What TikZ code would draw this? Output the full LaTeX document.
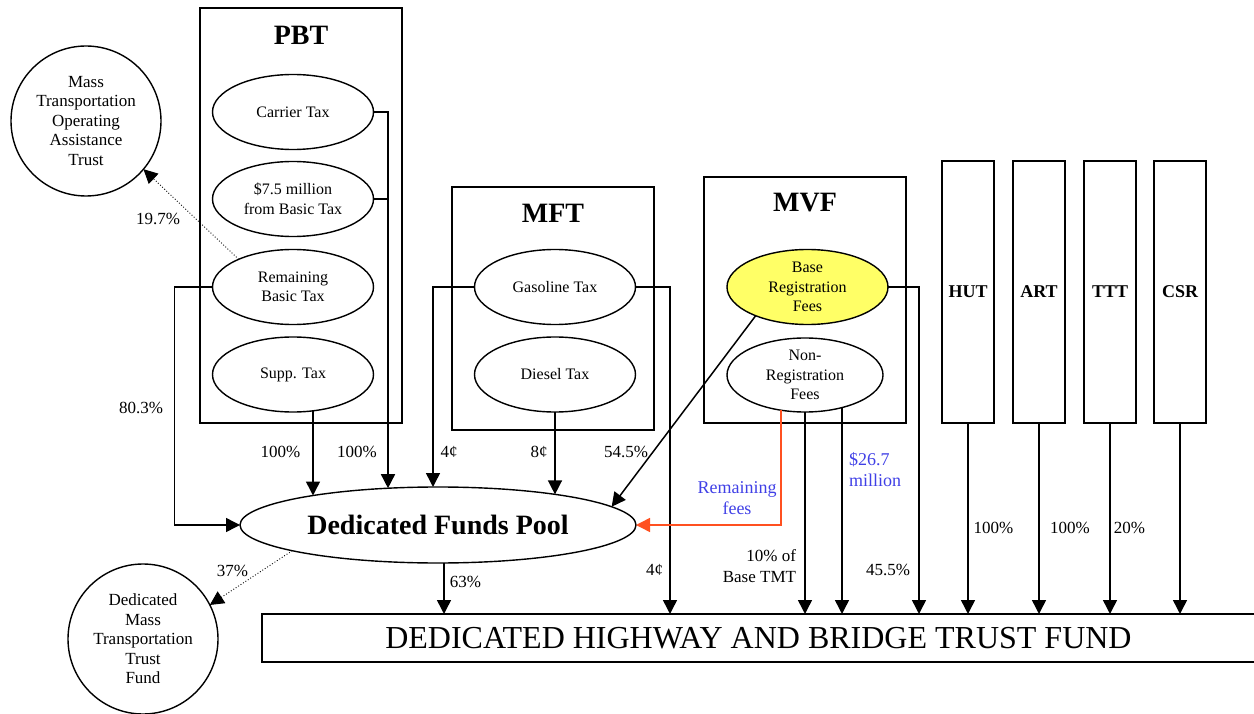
\documentclass[tikz,border=0pt]{standalone}
\usepackage{fontspec}
\setmainfont{Liberation Serif}
\usetikzlibrary{arrows.meta,shapes.geometric,calc}
\definecolor{fred}{RGB}{255,80,32}
\definecolor{fblue}{RGB}{64,64,230}
\definecolor{fyel}{RGB}{255,255,102}
\begin{document}
\begin{tikzpicture}[x=1pt,y=-1pt,
  every node/.style={inner sep=0pt,outer sep=0pt},
  ln/.style={line width=1.5pt},
  arr/.style={ln,-{Triangle[width=14pt,length=14pt]}},
  redarr/.style={line width=1.5pt,fred,-{Triangle[width=14pt,length=14pt]}},
  dotarr/.style={line width=0.9pt,dotted,-{Triangle[width=14pt,length=14pt]}},
  boxr/.style={draw,line width=1.4pt,rectangle},
  ell/.style={draw,line width=1.4pt,ellipse,minimum width=161pt,minimum height=75pt},
  etext/.style={align=center,font=\fontsize{16}{19.5}\selectfont},
  ctext/.style={align=center,font=\fontsize{17}{19.5}\selectfont},
  circ/.style={draw,line width=1.4pt,circle,minimum size=150pt},
  title/.style={font=\fontsize{28}{30}\selectfont\bfseries},
  stitle/.style={font=\fontsize{18}{20}\selectfont\bfseries},
  lab/.style={font=\fontsize{17}{21}\selectfont},
  blab/.style={font=\fontsize{18}{21}\selectfont,text=fblue}]
\useasboundingbox (0,0) rectangle (1254,714);

% --- boxes
\node[boxr,minimum width=202pt,minimum height=415pt] (pbt) at (301,215.5) {};
\node[title] (pbtt) at (301,35) {PBT};
\node[boxr,minimum width=202pt,minimum height=243pt] (mft) at (553,308.5) {};
\node[title] (mftt) at (553,213) {MFT};
\node[boxr,minimum width=202pt,minimum height=246pt] (mvf) at (805,300) {};
\node[title] (mvft) at (805,203) {MVF};
\node[boxr,minimum width=52pt,minimum height=262pt,stitle] (hut) at (968,292) {HUT};
\node[boxr,minimum width=52pt,minimum height=262pt,stitle] (art) at (1039,292) {ART};
\node[boxr,minimum width=52pt,minimum height=262pt,stitle] (ttt) at (1110,292) {TTT};
\node[boxr,minimum width=52pt,minimum height=262pt,stitle] (csr) at (1180,292) {CSR};

% --- ellipses
\node[ell] (carrier) at (293,112) {};
\node[etext] at (carrier) {Carrier Tax};
\node[ell] (b75) at (293,199) {};
\node[etext] at (b75) {\$7.5 million\\from Basic Tax};
\node[ell] (rbt) at (293,287) {};
\node[etext] at (rbt) {Remaining\\Basic Tax};
\node[ell] (supp) at (293,374.5) {};
\node[etext] at (supp) {Supp. Tax};
\node[ell] (gas) at (555,287) {};
\node[etext] at (gas) {Gasoline Tax};
\node[ell] (diesel) at (555,374.5) {};
\node[etext] at (diesel) {Diesel Tax};
\node[ell,fill=fyel] (brf) at (807.5,287) {};
\node[etext] at (brf) {Base\\Registration\\Fees};
\node[ell,minimum width=156pt,minimum height=74pt] (nrf) at (805,375) {};
\node[etext] at (nrf) {Non-\\Registration\\Fees};

\node[draw,line width=1.4pt,ellipse,minimum width=396pt,minimum height=76pt] (dfp) at (438,525) {};
\node[font=\fontsize{28}{30}\selectfont\bfseries] at (dfp) {Dedicated Funds Pool};

\node[circ] (mt) at (86,121) {};
\node[ctext] at (mt) {Mass\\Transportation\\Operating\\Assistance\\Trust};
\node[circ] (dmt) at (143,639) {};
\node[ctext] at (dmt) {Dedicated\\Mass\\Transportation\\Trust\\Fund};

\node[draw,line width=1.4pt,rectangle,minimum width=993pt,minimum height=48pt,
  font=\fontsize{32}{36}\selectfont] (fund) at (758.5,638) {DEDICATED HIGHWAY AND BRIDGE TRUST FUND};

% --- points on the ellipse borders
\coordinate (pA) at ($(dfp.center)+(-125,-29.5)$);
\coordinate (pB) at ($(dfp.center)+(-50,-36.8)$);
\coordinate (pC) at ($(dfp.center)+(-5,-38)$);
\coordinate (pD) at ($(dfp.center)+(117,-30.6)$);
\coordinate (pE) at ($(dfp.center)+(6,37.5)$);
\coordinate (sS) at ($(supp.center)+(20,36.3)$);
\coordinate (nR) at ($(nrf.center)+(-24,35.2)$);
\coordinate (nK) at ($(nrf.center)+(37,32.6)$);

% --- PBT connectors
\draw[arr] (carrier.east) -| (pB);
\draw[ln] (b75.east) -- (b75.east -| pB);
\draw[arr] (sS) -- (sS |- pA);
\draw[arr] (rbt.west) -- ++(-38,0) |- (dfp.west);
\draw[dotarr] (rbt.153) -- (mt.-40);

% --- MFT connectors
\draw[arr] (gas.west) -| (pC);
\draw[arr] (diesel.south) -- (diesel.south |- pD);
\draw[arr] (gas.east) -- ++(34.5,0) coordinate (g1) -- (g1 |- fund.north);

% --- MVF connectors
\draw[arr] (brf.east) -- ++(31,0) coordinate (b1) -- (b1 |- fund.north);
\draw[arr] (brf.209) -- (dfp.6);
\draw[redarr] (nR) |- (dfp.east);
\draw[arr] (nrf.south) -- (nrf.south |- fund.north);
\draw[arr] (nK) -- (nK |- fund.north);

% --- other sources
\draw[arr] (hut.south) -- (hut.south |- fund.north);
\draw[arr] (art.south) -- (art.south |- fund.north);
\draw[arr] (ttt.south) -- (ttt.south |- fund.north);
\draw[arr] (csr.south) -- (csr.south |- fund.north);

% --- pool outputs
\draw[arr] (pE) -- (pE |- fund.north);
\draw[dotarr] (dfp.190.7) -- (dmt.27);

% --- labels
\node[lab] at (158,219) {19.7\%};
\node[lab] at (141,408) {80.3\%};
\node[lab] at (280.5,452) {100\%};
\node[lab] at (357,452) {100\%};
\node[lab] at (449,452) {4¢};
\node[lab] at (539,452) {8¢};
\node[lab] at (626,452) {54.5\%};
\node[lab] at (654.5,570) {4¢};
\node[lab,align=right,anchor=east] at (796,566) {10\% of\\Base TMT};
\node[lab] at (888,570) {45.5\%};
\node[blab,align=center] at (737,498) {Remaining\\fees};
\node[blab,align=left,anchor=west] at (849,470) {\$26.7\\million};
\node[lab] at (465.5,582) {63\%};
\node[lab] at (232.5,571) {37\%};
\node[lab] at (993.5,528) {100\%};
\node[lab] at (1070,528) {100\%};
\node[lab] at (1129.5,528) {20\%};
\end{tikzpicture}
\end{document}
